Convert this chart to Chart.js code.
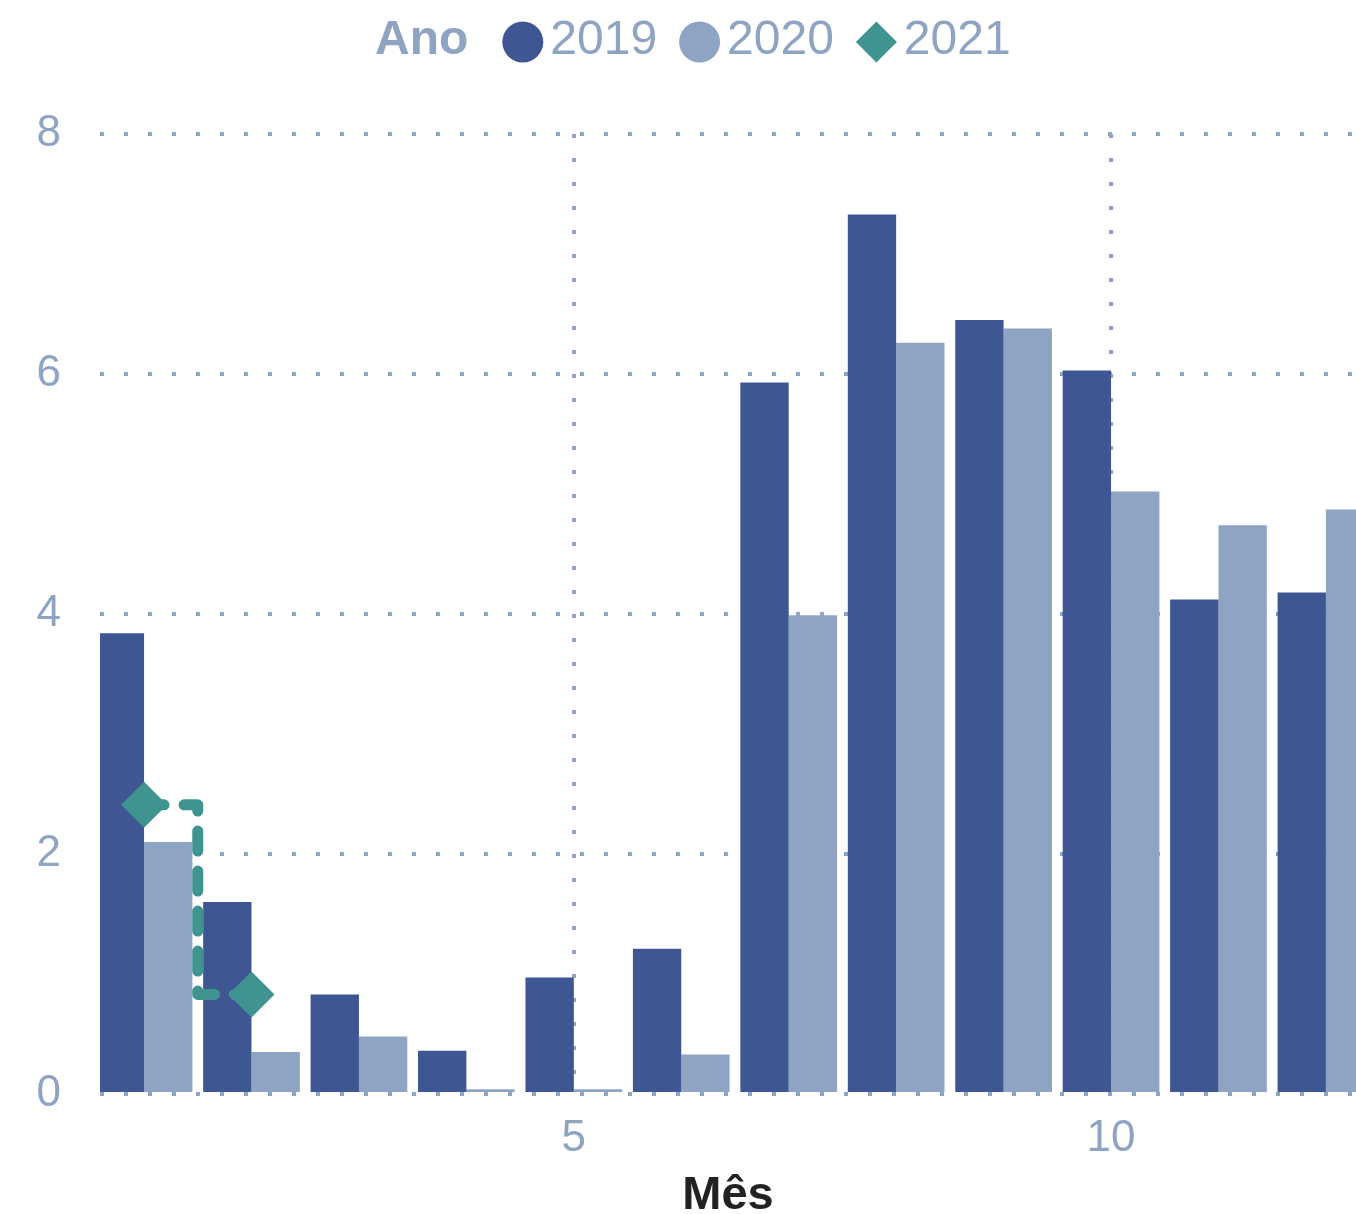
<!DOCTYPE html>
<html>
<head>
<meta charset="utf-8">
<script src="https://cdn.jsdelivr.net/npm/chart.js@4/dist/chart.umd.min.js"></script>
<style>
  html, body { margin: 0; padding: 0; background: #ffffff; }
  #wrap { width: 1356px; height: 1214px; }
</style>
</head>
<body>
<div id="wrap"><canvas id="c" width="1356" height="1214"></canvas></div>
<script>
// ---- data ----
const months = [1, 2, 3, 4, 5, 6, 7, 8, 9, 10, 11, 12];
const values2019 = [3.84, 1.60, 0.83, 0.36, 0.97, 1.21, 5.93, 7.33, 6.45, 6.03, 4.12, 4.18];
const values2020 = [2.10, 0.35, 0.48, 0.04, 0.04, 0.33, 3.99, 6.26, 6.38, 5.02, 4.74, 4.87];
const months2021 = [1, 2];
const values2021 = [2.41, 0.83];
const xTicks = [5, 10];
const yTicks = [0, 2, 4, 6, 8];
const legendTitle = 'Ano';
const seriesNames = ['2019', '2020', '2021'];
const xTitle = 'Mês';

const C2019 = '#3e5793';
const C2020 = '#8fa3c3';
const C2021 = '#3f9490';
const TXT = '#8fa3c3';
const FONT = '"Liberation Sans", Arial, Helvetica, sans-serif';

const toXY = (xs, ys) => xs.map((x, i) => ({ x: x, y: ys[i] }));

// custom inline legend: bold title followed by markers and labels
const inlineLegend = {
  id: 'inlineLegend',
  afterDraw(chart) {
    const ctx = chart.ctx;
    ctx.save();
    ctx.textBaseline = 'middle';
    ctx.textAlign = 'left';
    const cy = 41;
    let x = 375;
    ctx.fillStyle = TXT;
    ctx.font = 'bold 48px ' + FONT;
    ctx.fillText(legendTitle, x, cy);
    x += ctx.measureText(legendTitle).width + 34;
    ctx.font = '48px ' + FONT;
    const colors = [C2019, C2020, C2021];
    const styles = ['circle', 'circle', 'diamond'];
    seriesNames.forEach((name, i) => {
      const r = 20.5;
      const mx = x + r;
      ctx.fillStyle = colors[i];
      ctx.beginPath();
      if (styles[i] === 'circle') {
        ctx.arc(mx, cy + 1, r, 0, Math.PI * 2);
      } else {
        ctx.moveTo(mx - r, cy + 1);
        ctx.lineTo(mx, cy + 1 - r);
        ctx.lineTo(mx + r, cy + 1);
        ctx.lineTo(mx, cy + 1 + r);
        ctx.closePath();
      }
      ctx.fill();
      x += 2 * r + 7;
      ctx.fillStyle = TXT;
      ctx.fillText(name, x, cy);
      x += ctx.measureText(name).width + 22;
    });
    ctx.restore();
  }
};

new Chart(document.getElementById('c'), {
  data: {
    datasets: [
      {
        type: 'line',
        label: seriesNames[2],
        data: toXY(months2021, values2021),
        borderColor: C2021,
        backgroundColor: C2021,
        borderWidth: 11,
        borderDash: [20, 20],
        borderCapStyle: 'round',
        borderJoinStyle: 'round',
        stepped: 'middle',
        pointStyle: 'rectRot',
        pointRadius: 23,
        pointBorderWidth: 0,
        pointBackgroundColor: C2021,
        pointBorderColor: C2021,
        fill: false,
        order: 0
      },
      {
        type: 'bar',
        label: seriesNames[0],
        data: toXY(months, values2019),
        backgroundColor: C2019,
        borderWidth: 0,
        barPercentage: 1.0,
        categoryPercentage: 0.9,
        order: 1
      },
      {
        type: 'bar',
        label: seriesNames[1],
        data: toXY(months, values2020),
        backgroundColor: C2020,
        borderWidth: 0,
        barPercentage: 1.0,
        categoryPercentage: 0.9,
        order: 1
      }
    ]
  },
  options: {
    responsive: false,
    animation: false,
    layout: { autoPadding: false, padding: { top: 134, left: 0, right: 0, bottom: 0 } },
    plugins: {
      legend: { display: false },
      tooltip: { enabled: false },
      title: { display: false }
    },
    scales: {
      x: {
        type: 'linear',
        min: 0.59,
        max: 12.28,
        offset: false,
        afterBuildTicks(scale) { scale.ticks = xTicks.map(v => ({ value: v })); },
        afterFit(scale) {
          scale.height = 120;
          scale.paddingLeft = 0;
          scale.paddingRight = 0;
        },
        ticks: {
          color: TXT,
          font: { family: FONT, size: 44 },
          padding: 18,
          autoSkip: false,
          maxRotation: 0
        },
        grid: {
          display: true,
          offset: false,
          drawTicks: false,
          color: TXT,
          lineWidth: 4
        },
        border: { display: false, dash: [4, 20] },
        title: {
          display: true,
          text: xTitle,
          color: '#222222',
          font: { family: FONT, size: 47, weight: 'bold', lineHeight: 0.75 },
          padding: { top: 0, bottom: 0 }
        }
      },
      y: {
        type: 'linear',
        min: 0,
        max: 8,
        afterBuildTicks(scale) { scale.ticks = yTicks.map(v => ({ value: v })); },
        afterFit(scale) { scale.width = 100; },
        ticks: {
          color: TXT,
          font: { family: FONT, size: 44 },
          padding: 39
        },
        grid: {
          display: true,
          drawTicks: false,
          color: TXT,
          lineWidth: 4
        },
        border: { display: false, dash: [4, 20] }
      }
    }
  },
  plugins: [inlineLegend]
});
</script>
</body>
</html>
